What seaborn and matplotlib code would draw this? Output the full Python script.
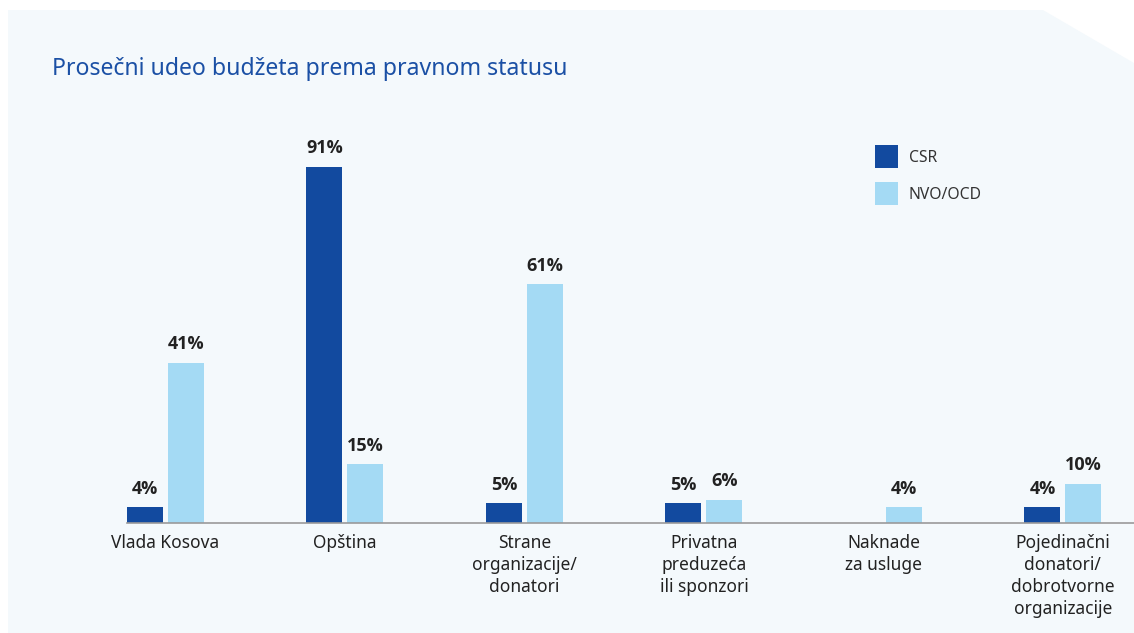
import matplotlib
matplotlib.use("Agg")
import matplotlib.pyplot as plt
import seaborn as sns
import pandas as pd
from matplotlib.patches import Polygon, Patch

categories = ["Vlada Kosova", "Opština", "Strane\norganizacije/\ndonatori",
              "Privatna\npreduzeća\nili sponzori", "Naknade\nza usluge",
              "Pojedinačni\ndonatori/\ndobrotvorne\norganizacije"]
series = ["CSR", "NVO/OCD"]
csr = [4, 91, 5, 5, 0, 4]
nvo = [41, 15, 61, 6, 4, 10]
title = "Prosečni udeo budžeta prema pravnom statusu"

df = pd.DataFrame({
    "cat": categories * 2,
    "series": [series[0]] * len(categories) + [series[1]] * len(categories),
    "val": csr + nvo,
})

sns.set_theme(style="white")
plt.rcParams["font.family"] = ["Noto Sans", "Open Sans", "DejaVu Sans"]

W, H = 1134, 633
fig = plt.figure(figsize=(W / 100, H / 100), dpi=100, facecolor="white")

def fx(x): return x / W
def fy(y): return 1 - y / H

# background panel with folded corner
bg = fig.add_axes([0, 0, 1, 1], zorder=-5)
bg.set_axis_off()
bg.set_xlim(0, 1)
bg.set_ylim(0, 1)
bg.add_patch(Polygon([(fx(8), fy(10)), (fx(1043), fy(10)), (fx(1134), fy(63)),
                      (fx(1134), fy(633)), (fx(8), fy(633))],
                     closed=True, facecolor="#F4F9FC", edgecolor="none"))

colors = ["#124A9F", "#A4DAF4"]
ax = fig.add_axes([fx(127), fy(523), fx(1134) - fx(127), fy(132) - fy(523)], zorder=1)
ax.set_facecolor("none")
sns.barplot(data=df, x="cat", y="val", hue="series", palette=colors,
            width=0.4568, gap=0.122, ax=ax, legend=False, saturation=1,
            linewidth=0, edgecolor="none")

for cont in ax.containers:
    labels = [f"{v:.0f}%" if v > 0 else "" for v in cont.datavalues]
    ax.bar_label(cont, labels=labels, padding=7, fontsize=13,
                 fontweight="bold", color="#222222",
                 fontfamily=["Open Sans", "Noto Sans", "DejaVu Sans"])

ax.set_ylim(0, 100)
ax.set_xlim(-0.2145, 5.396)
ax.set_xlabel("")
ax.set_ylabel("")
ax.set_yticks([])
for s in ["top", "right", "left"]:
    ax.spines[s].set_visible(False)
ax.spines["bottom"].set_color("#9A9A9A")
ax.spines["bottom"].set_linewidth(1.2)
ax.tick_params(axis="x", length=0, pad=8, labelsize=12.5, labelcolor="#222222")
for t in ax.get_xticklabels():
    t.set_linespacing(1.28)
    t.set_ha("center")
    t.set_multialignment("center")

fig.text(fx(52), fy(69), title, fontsize=16.6, color="#1B50A5", va="center", ha="left")

handles = [Patch(facecolor=c, edgecolor="none") for c in colors]
fig.legend(handles, series, loc="upper left", bbox_to_anchor=(fx(861), fy(131)),
           frameon=False, fontsize=11.3, handlelength=1.46, handleheight=1.85,
           handletextpad=0.68, labelspacing=0.93, labelcolor="#333333")

fig.savefig("out.png", dpi=100, facecolor="white")
